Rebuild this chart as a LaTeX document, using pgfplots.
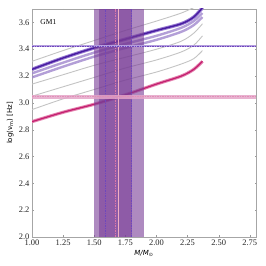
\documentclass[border=0pt]{standalone}
\usepackage{pgfplots}
\pgfplotsset{compat=1.18}
\usepackage{fontspec}
\setmainfont{Liberation Serif}
\newfontfamily\dejavu{DejaVu Sans}
\definecolor{dpurp}{RGB}{72,28,160}
\definecolor{dpurpband}{RGB}{150,120,210}
\definecolor{lpurp}{RGB}{160,135,205}
\definecolor{mag}{RGB}{195,30,110}
\definecolor{magband}{RGB}{228,130,175}
\definecolor{gline}{RGB}{195,195,195}
\definecolor{bandc}{RGB}{120,60,150}
\definecolor{pinkband}{RGB}{228,165,200}
\definecolor{pinkline}{RGB}{240,175,195}
\definecolor{hpurp}{RGB}{110,70,190}
\definecolor{hpurpband}{RGB}{180,158,222}
\begin{document}
\begin{tikzpicture}
\begin{axis}[
  at={(0,0)}, anchor=south west,
  scale only axis, width=224bp, height=228bp,
  xmin=1.0, xmax=2.8, ymin=2.0, ymax=3.7,
  xtick={1,1.25,1.5,1.75,2,2.25,2.5,2.75},
  ytick={2.0,2.2,2.4,2.6,2.8,3.0,3.2,3.4,3.6},
  tick label style={font=\fontsize{8.5}{9}\selectfont, text=black!85},
  xticklabel style={yshift=1bp, /pgf/number format/.cd, fixed, fixed zerofill, precision=2, assume math mode=true},
  yticklabel style={xshift=1bp, /pgf/number format/.cd, fixed, fixed zerofill, precision=1, assume math mode=true},
  axis line style={draw=black!35},
  major tick length=1.5bp,
  tick style={draw=black!40},
  xlabel={\dejavu\itshape M/M\textsubscript{\normalfont\dejavu ⊙}},
  ylabel={\dejavu log(ν\textsubscript{m}) [Hz]},
  label style={font=\fontsize{7}{8}\selectfont},
  xlabel style={at={(axis description cs:0.5,-0.045)}, anchor=north},
  ylabel style={at={(axis description cs:-0.066,0.5)}, anchor=south},
  clip=true,
]
% gray model tracks
\addplot[gline, line width=0.9bp, smooth] coordinates {(1.0,3.31) (1.25,3.39) (1.5,3.465) (1.75,3.54) (2.0,3.61) (2.2,3.67) (2.32,3.72)};
\addplot[gline, line width=0.9bp, smooth] coordinates {(1.0,3.14) (1.25,3.21) (1.5,3.28) (1.75,3.34) (2.0,3.40) (2.2,3.46) (2.3,3.52) (2.37,3.59)};
\addplot[gline, line width=0.9bp, smooth] coordinates {(1.0,3.05) (1.25,3.12) (1.5,3.19) (1.75,3.26) (2.0,3.32) (2.2,3.38) (2.3,3.43) (2.37,3.50)};
\addplot[gline, line width=0.9bp, smooth] coordinates {(1.0,2.95) (1.25,3.03) (1.5,3.10) (1.75,3.17) (2.0,3.23) (2.2,3.29) (2.3,3.33) (2.37,3.39)};
% light purple tracks
\addplot[lpurp, line width=2.4bp, opacity=0.8, smooth] coordinates {(1.0,3.19) (1.25,3.27) (1.5,3.345) (1.75,3.41) (2.0,3.47) (2.2,3.53) (2.3,3.58) (2.37,3.64)};
\addplot[lpurp, line width=2.4bp, opacity=0.8, smooth] coordinates {(1.0,3.22) (1.25,3.30) (1.5,3.375) (1.75,3.44) (2.0,3.50) (2.2,3.56) (2.3,3.61) (2.37,3.67)};
% dark purple track
\addplot[dpurpband, line width=3.4bp, smooth] coordinates {(1.0,3.25) (1.25,3.335) (1.5,3.41) (1.75,3.475) (2.0,3.54) (2.2,3.59) (2.3,3.64) (2.37,3.71)};
\addplot[dpurp, line width=1.4bp, smooth] coordinates {(1.0,3.25) (1.25,3.335) (1.5,3.41) (1.75,3.475) (2.0,3.54) (2.2,3.59) (2.3,3.64) (2.37,3.71)};
% magenta track
\addplot[magband, line width=3.2bp, smooth] coordinates {(1.0,2.86) (1.25,2.93) (1.5,2.99) (1.75,3.06) (2.0,3.14) (2.2,3.20) (2.3,3.25) (2.37,3.31)};
\addplot[mag, line width=1.2bp, smooth] coordinates {(1.0,2.86) (1.25,2.93) (1.5,2.99) (1.75,3.06) (2.0,3.14) (2.2,3.20) (2.3,3.25) (2.37,3.31)};
% vertical mass bands
\addplot[draw=none, fill=bandc, fill opacity=0.6] coordinates {(1.50,2.0) (1.80,2.0) (1.80,3.7) (1.50,3.7)} -- cycle;
\addplot[draw=none, fill=bandc, fill opacity=0.6] coordinates {(1.54,2.0) (1.90,2.0) (1.90,3.7) (1.54,3.7)} -- cycle;
\addplot[hpurp, line width=0.6bp, dash pattern=on 1.5bp off 1bp] coordinates {(1.59,2.0) (1.59,3.7)};
\addplot[hpurp, line width=0.6bp, dash pattern=on 1.5bp off 1bp] coordinates {(1.80,2.0) (1.80,3.7)};
\addplot[mag!60, line width=0.5bp, dash pattern=on 1.5bp off 1bp] coordinates {(1.67,2.0) (1.67,3.7)};
\addplot[pinkline, line width=1.5bp] coordinates {(1.694,2.0) (1.694,3.7)};
% horizontal frequency bands
\addplot[draw=none, fill=pinkband, fill opacity=0.85] coordinates {(1.0,3.032) (2.8,3.032) (2.8,3.060) (1.0,3.060)} -- cycle;
\addplot[mag!50, line width=0.5bp, dash pattern=on 1.5bp off 1bp] coordinates {(1.0,3.046) (2.8,3.046)};
\addplot[hpurpband, line width=1.6bp] coordinates {(1.0,3.425) (2.8,3.425)};
\addplot[hpurp, line width=0.7bp, dash pattern=on 1.5bp off 1bp] coordinates {(1.0,3.425) (2.8,3.425)};
\node[anchor=west, font=\fontsize{7.5}{8}\selectfont] at (axis cs:1.04,3.6) {GM1};
\end{axis}
\useasboundingbox (-32bp,-29bp) rectangle (234bp,237bp);
\end{tikzpicture}
\end{document}
